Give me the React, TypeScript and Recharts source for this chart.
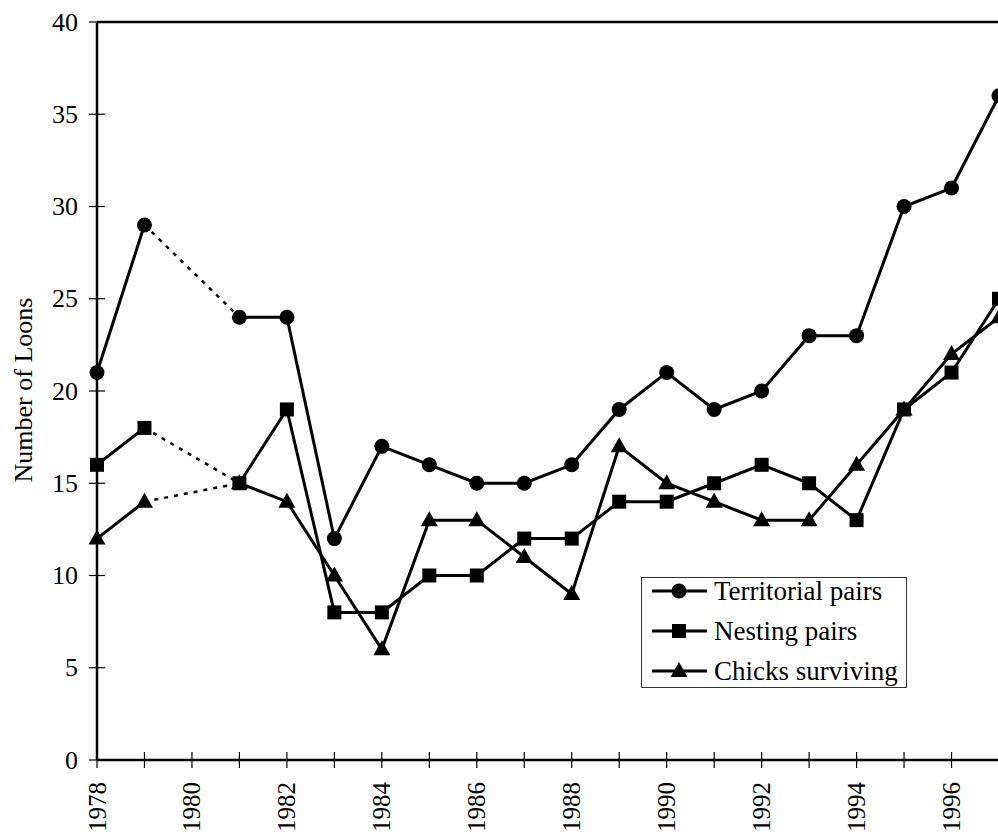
import { LineChart, Line, XAxis, YAxis, Legend, ReferenceLine } from 'recharts';

// Loon counts by year (1980 not surveyed)
const years = [1978, 1979, 1980, 1981, 1982, 1983, 1984, 1985, 1986, 1987, 1988, 1989, 1990, 1991, 1992, 1993, 1994, 1995, 1996, 1997];
const territorialPairs = [21, 29, null, 24, 24, 12, 17, 16, 15, 15, 16, 19, 21, 19, 20, 23, 23, 30, 31, 36];
const nestingPairs = [16, 18, null, 15, 19, 8, 8, 10, 10, 12, 12, 14, 14, 15, 16, 15, 13, 19, 21, 25];
const chicksSurviving = [12, 14, null, 15, 14, 10, 6, 13, 13, 11, 9, 17, 15, 14, 13, 13, 16, 19, 22, 24];
const yTicks = [0, 5, 10, 15, 20, 25, 30, 35, 40];

const FONT = '"Liberation Serif", "Times New Roman", serif';

// values only next to a missing year, so the gap can be bridged with a dotted line
const bridge = (vals: (number | null)[]) =>
  vals.map((v, i) => (v != null && (vals[i - 1] === null || vals[i + 1] === null) ? v : null));

const data = years.map((year, i) => ({
  year,
  territorial: territorialPairs[i],
  nesting: nestingPairs[i],
  chicks: chicksSurviving[i],
  territorialGap: bridge(territorialPairs)[i],
  nestingGap: bridge(nestingPairs)[i],
  chicksGap: bridge(chicksSurviving)[i],
}));

type Shape = 'circle' | 'square' | 'triangle';

const Marker = ({ shape, cx, cy }: { shape: Shape; cx: number; cy: number }) => {
  if (shape === 'circle') return <circle cx={cx} cy={cy} r={7.5} fill="#000" />;
  if (shape === 'square') return <rect x={cx - 7} y={cy - 7} width={14} height={14} fill="#000" />;
  return <polygon points={`${cx},${cy - 9} ${cx + 8.5},${cy + 6} ${cx - 8.5},${cy + 6}`} fill="#000" />;
};

const makeDot = (shape: Shape) => (props: any) => {
  const { cx, cy, value, index } = props;
  if (value == null || cy == null || isNaN(cy)) return <g key={`e-${shape}-${index}`} />;
  return <Marker key={`${shape}-${index}`} shape={shape} cx={cx} cy={cy} />;
};

const XTick = ({ x, y, payload }: any) => (
  <g>
    <line x1={x} x2={x} y1={y - 8} y2={y + 8} stroke="#000" strokeWidth={1.2} />
    {payload.value % 2 === 0 && (
      <text
        x={x}
        y={y + 22}
        transform={`rotate(-90, ${x}, ${y + 22})`}
        textAnchor="end"
        dominantBaseline="central"
        fontFamily={FONT}
        fontSize={25}
        fill="#000"
      >
        {payload.value}
      </text>
    )}
  </g>
);

const YTick = ({ x, y, payload }: any) => (
  <g>
    <line x1={x - 8} x2={x + 8} y1={y} y2={y} stroke="#000" strokeWidth={1.2} />
    <text x={x - 19} y={y} textAnchor="end" dominantBaseline="central" fontFamily={FONT} fontSize={26} fill="#000">
      {payload.value}
    </text>
  </g>
);

const YTitle = ({ viewBox }: any) => {
  const cy = viewBox.y + viewBox.height / 2 - 1;
  return (
    <text x={23} y={cy} transform={`rotate(-90, 23, ${cy})`} textAnchor="middle" dominantBaseline="central" fontFamily={FONT} fontSize={26} fill="#000">
      Number of Loons
    </text>
  );
};

const legendItems: { label: string; shape: Shape }[] = [
  { label: 'Territorial pairs', shape: 'circle' },
  { label: 'Nesting pairs', shape: 'square' },
  { label: 'Chicks surviving', shape: 'triangle' },
];

const LegendBox = () => (
  <div
    style={{
      border: '1px solid #333',
      background: '#fff',
      width: 266,
      height: 111,
      boxSizing: 'border-box',
      padding: '0 0 0 10px',
      fontFamily: FONT,
      fontSize: 27,
      lineHeight: '40px',
      color: '#000',
    }}
  >
    {legendItems.map((item, i) => (
      <div key={item.label} style={{ display: 'flex', alignItems: 'center', height: 40, marginTop: i === 0 ? -7 : 0 }}>
        <svg width={62} height={24} style={{ flex: 'none' }}>
          <line x1={0} x2={55} y1={12} y2={12} stroke="#000" strokeWidth={3} />
          <Marker shape={item.shape} cx={27} cy={12} />
        </svg>
        <span style={{ whiteSpace: 'nowrap' }}>{item.label}</span>
      </div>
    ))}
  </div>
);

export default function App() {
  return (
    <div style={{ position: 'absolute', left: 0, top: 0, background: '#fff' }}>
      <LineChart width={1010} height={838} data={data} margin={{ top: 22, right: 11, left: 0, bottom: 0 }}>
        <XAxis
          dataKey="year"
          type="number"
          domain={[1978, 1997]}
          ticks={years}
          interval={0}
          height={78}
          tickSize={0}
          tickMargin={0}
          tick={<XTick />}
          axisLine={{ stroke: '#000', strokeWidth: 2.5 }}
          tickLine={false}
        />
        <YAxis
          type="number"
          domain={[0, 40]}
          ticks={yTicks}
          width={97}
          tickSize={0}
          tickMargin={0}
          tick={<YTick />}
          axisLine={{ stroke: '#000', strokeWidth: 2.5 }}
          tickLine={false}
          label={<YTitle />}
        />
        <ReferenceLine y={40} stroke="#000" strokeWidth={2.5} ifOverflow="visible" />
        <Legend
          layout="vertical"
          align="center"
          verticalAlign="middle"
          content={<LegendBox />}
          wrapperStyle={{ left: 641, top: 577, width: 'auto' }}
        />
        <Line dataKey="territorialGap" stroke="#000" strokeWidth={2.5} strokeDasharray="4 6" dot={false} connectNulls isAnimationActive={false} legendType="none" />
        <Line dataKey="nestingGap" stroke="#000" strokeWidth={2.5} strokeDasharray="4 6" dot={false} connectNulls isAnimationActive={false} legendType="none" />
        <Line dataKey="chicksGap" stroke="#000" strokeWidth={2.5} strokeDasharray="4 6" dot={false} connectNulls isAnimationActive={false} legendType="none" />
        <Line dataKey="chicks" name="Chicks surviving" stroke="#000" strokeWidth={3} dot={makeDot('triangle')} activeDot={false} isAnimationActive={false} />
        <Line dataKey="nesting" name="Nesting pairs" stroke="#000" strokeWidth={3} dot={makeDot('square')} activeDot={false} isAnimationActive={false} />
        <Line dataKey="territorial" name="Territorial pairs" stroke="#000" strokeWidth={3} dot={makeDot('circle')} activeDot={false} isAnimationActive={false} />
      </LineChart>
    </div>
  );
}
